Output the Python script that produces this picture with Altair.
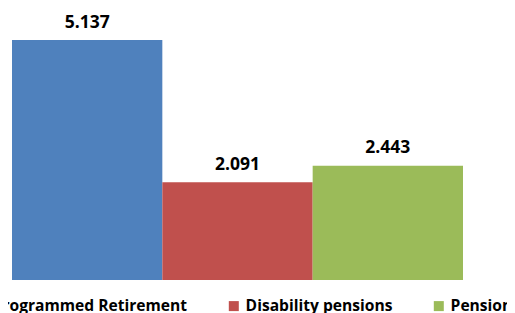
import altair as alt
import pandas as pd

categories = ["Programmed Retirement", "Disability pensions", "Pensions"]
values = [5.137, 2.091, 2.443]
labels = ["5.137", "2.091", "2.443"]
colors = ["#4F81BD", "#C0504D", "#9BBB59"]

df = pd.DataFrame({"cat": categories, "val": values, "lab": labels})

x = alt.X("cat:N", sort=categories, axis=None,
          scale=alt.Scale(paddingInner=0, paddingOuter=0))
y = alt.Y("val:Q", axis=None, scale=alt.Scale(domain=[0, 5.822], nice=False, zero=True))

bars = alt.Chart(df).mark_bar(size=150.33).encode(
    x=x, y=y,
    color=alt.Color("cat:N", sort=categories,
                    scale=alt.Scale(domain=categories, range=colors),
                    legend=alt.Legend(
                        title=None, orient="none", direction="horizontal",
                        legendX=-39, legendY=290,
                        symbolType="square", symbolSize=100, symbolStrokeWidth=0,
                        labelFont="Open Sans", labelFontWeight="bold", labelFontSize=15.6,
                        labelColor="#000000", labelOffset=4, columnPadding=38,
                        labelLimit=400)),
)

text = alt.Chart(df).mark_text(
    font="Open Sans", fontWeight="bold", fontSize=17.5, color="#000000",
    baseline="alphabetic", dy=-12.5
).encode(x=x, y=y, text="lab:N")

chart = (bars + text).properties(
    width=451, height=272,
    autosize=alt.AutoSizeParams(type="none"),
    padding={"left": 4, "top": 0, "right": 44, "bottom": 33},
).configure_view(stroke=None)

chart.save("out.html", embed_options={"renderer": "svg", "actions": False})
